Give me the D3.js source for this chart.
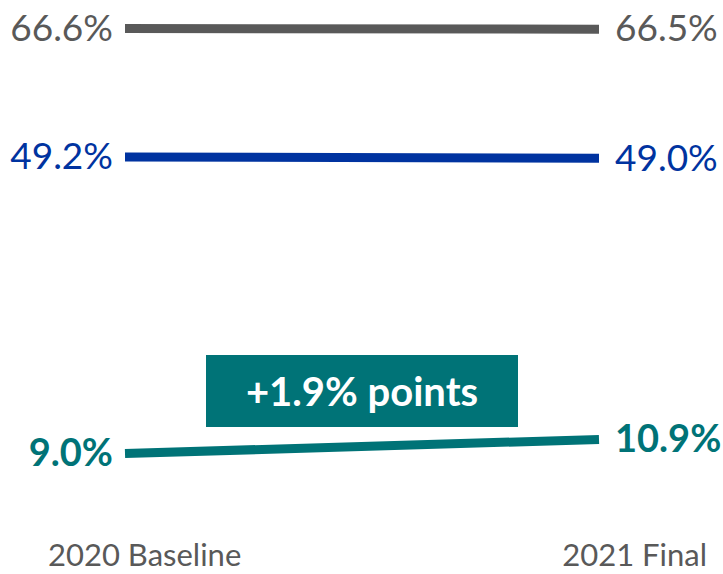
<!DOCTYPE html>
<html>
<head>
<meta charset="utf-8">
<script src="https://cdn.jsdelivr.net/npm/d3@7"></script>
<style>
html,body{margin:0;padding:0;background:#fff;}
svg{display:block;font-family:"Source Sans Pro","Lato","Noto Sans",sans-serif;}
</style>
</head>
<body>
<svg id="chart" width="723" height="574"></svg>
<script>
const categories = ["2020 Baseline", "2021 Final"];
const seriesNames = ["Gray", "Blue", "Teal"];
const seriesValues = [
  [66.6, 66.5],
  [49.2, 49.0],
  [9.0, 10.9]
];
const seriesColors = ["#595959", "#0033a0", "#007377"];
const seriesBold = [false, false, true];
const changeLabel = "+1.9% points";

const svg = d3.select("#chart");
const x = d3.scalePoint().domain(categories).range([125, 599]);
const y = d3.scaleLinear().domain([9.0, 66.6]).range([453.5, 28.5]);

const line = d3.line().x((d, i) => x(categories[i])).y(d => y(d));

seriesValues.forEach((vals, s) => {
  svg.append("path")
    .attr("d", line(vals))
    .attr("fill", "none")
    .attr("stroke", seriesColors[s])
    .attr("stroke-width", 9)
    .attr("stroke-linecap", "butt");

  const fs = seriesBold[s] ? 38 : 37;
  svg.append("text")
    .attr("x", x(categories[0]) - 12)
    .attr("y", y(vals[0]))
    .attr("dy", "0.33em")
    .attr("text-anchor", "end")
    .attr("fill", seriesColors[s])
    .attr("font-size", fs)
    .attr("font-weight", seriesBold[s] ? 700 : 400)
    .text(d3.format(".1f")(vals[0]) + "%");
  svg.append("text")
    .attr("x", x(categories[1]) + 16)
    .attr("y", y(vals[1]))
    .attr("dy", "0.33em")
    .attr("text-anchor", "start")
    .attr("fill", seriesColors[s])
    .attr("font-size", fs)
    .attr("font-weight", seriesBold[s] ? 700 : 400)
    .text(d3.format(".1f")(vals[1]) + "%");
});

// change annotation box
svg.append("rect")
  .attr("x", 206).attr("y", 355)
  .attr("width", 312).attr("height", 72)
  .attr("fill", seriesColors[2]);
svg.append("text")
  .attr("x", 362).attr("y", 406)
  .attr("text-anchor", "middle")
  .attr("fill", "#fff")
  .attr("font-size", 40)
  .attr("font-weight", 700)
  .text(changeLabel);

// category labels
svg.append("text")
  .attr("x", 48).attr("y", 566)
  .attr("text-anchor", "start")
  .attr("fill", "#595959")
  .attr("font-size", 31)
  .text(categories[0]);
svg.append("text")
  .attr("x", 707).attr("y", 566)
  .attr("text-anchor", "end")
  .attr("fill", "#595959")
  .attr("font-size", 31)
  .text(categories[1]);
</script>
</body>
</html>
